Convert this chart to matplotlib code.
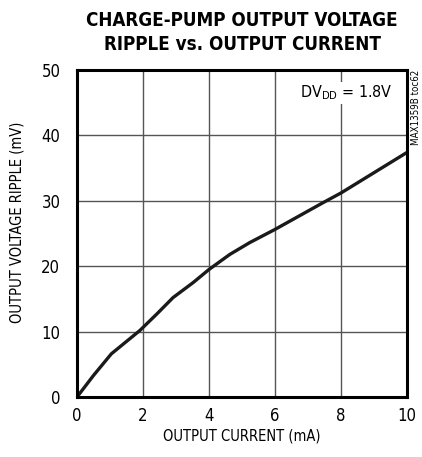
import matplotlib.pyplot as plt

# condensed sans for all text
plt.rcParams['font.family'] = ['DejaVu Sans']
plt.rcParams['font.stretch'] = 'condensed'

# ripple curve, DVDD = 1.8V
current_ma = [0, 0.5, 1.04, 1.9, 2.42, 2.91, 3.52, 4.0, 4.63, 5.23, 5.99, 7.45, 8.0, 10.0]
ripple_mv = [0, 3.3, 6.6, 10.15, 12.7, 15.2, 17.5, 19.5, 21.8, 23.6, 25.6, 29.7, 31.2, 37.4]

x_ticks = [0, 2, 4, 6, 8, 10]
y_ticks = [0, 10, 20, 30, 40, 50]

fig = plt.figure(figsize=(4.22, 4.57), dpi=100)
ax = fig.add_axes([0.1825, 0.1313, 0.782, 0.7155])

ax.plot(current_ma, ripple_mv, color='#1a1a1a', lw=2.4, solid_capstyle='round')

ax.set_xlim(0, 10)
ax.set_ylim(0, 50)
ax.set_xticks(x_ticks)
ax.set_yticks(y_ticks)
ax.grid(True, color='#555555', lw=1.0)
ax.tick_params(length=0, labelsize=12)
ax.tick_params(axis='x', pad=7)
ax.tick_params(axis='y', pad=12)
for s in ax.spines.values():
    s.set_linewidth(2.2)
    s.set_color('black')

ax.set_xlabel('OUTPUT CURRENT (mA)', fontsize=10.5, labelpad=3)
ax.set_ylabel('OUTPUT VOLTAGE RIPPLE (mV)', fontsize=10.5)
ax.yaxis.set_label_coords(-0.158, 0.535)

fig.text(0.574, 0.956, 'CHARGE-PUMP OUTPUT VOLTAGE', ha='center', va='center',
         fontsize=13.5, fontweight='bold')
fig.text(0.574, 0.902, 'RIPPLE vs. OUTPUT CURRENT', ha='center', va='center',
         fontsize=13.5, fontweight='bold')

ax.text(0.955, 0.93, r'DV$_{\mathregular{DD}}$ = 1.8V', transform=ax.transAxes,
        ha='right', va='center', fontsize=11.5,
        bbox=dict(facecolor='white', edgecolor='none', pad=1))
fig.text(0.986, 0.765, 'MAX1359B toc62', rotation=90, ha='center', va='center', fontsize=7)

fig.savefig('out.png', dpi=100)
